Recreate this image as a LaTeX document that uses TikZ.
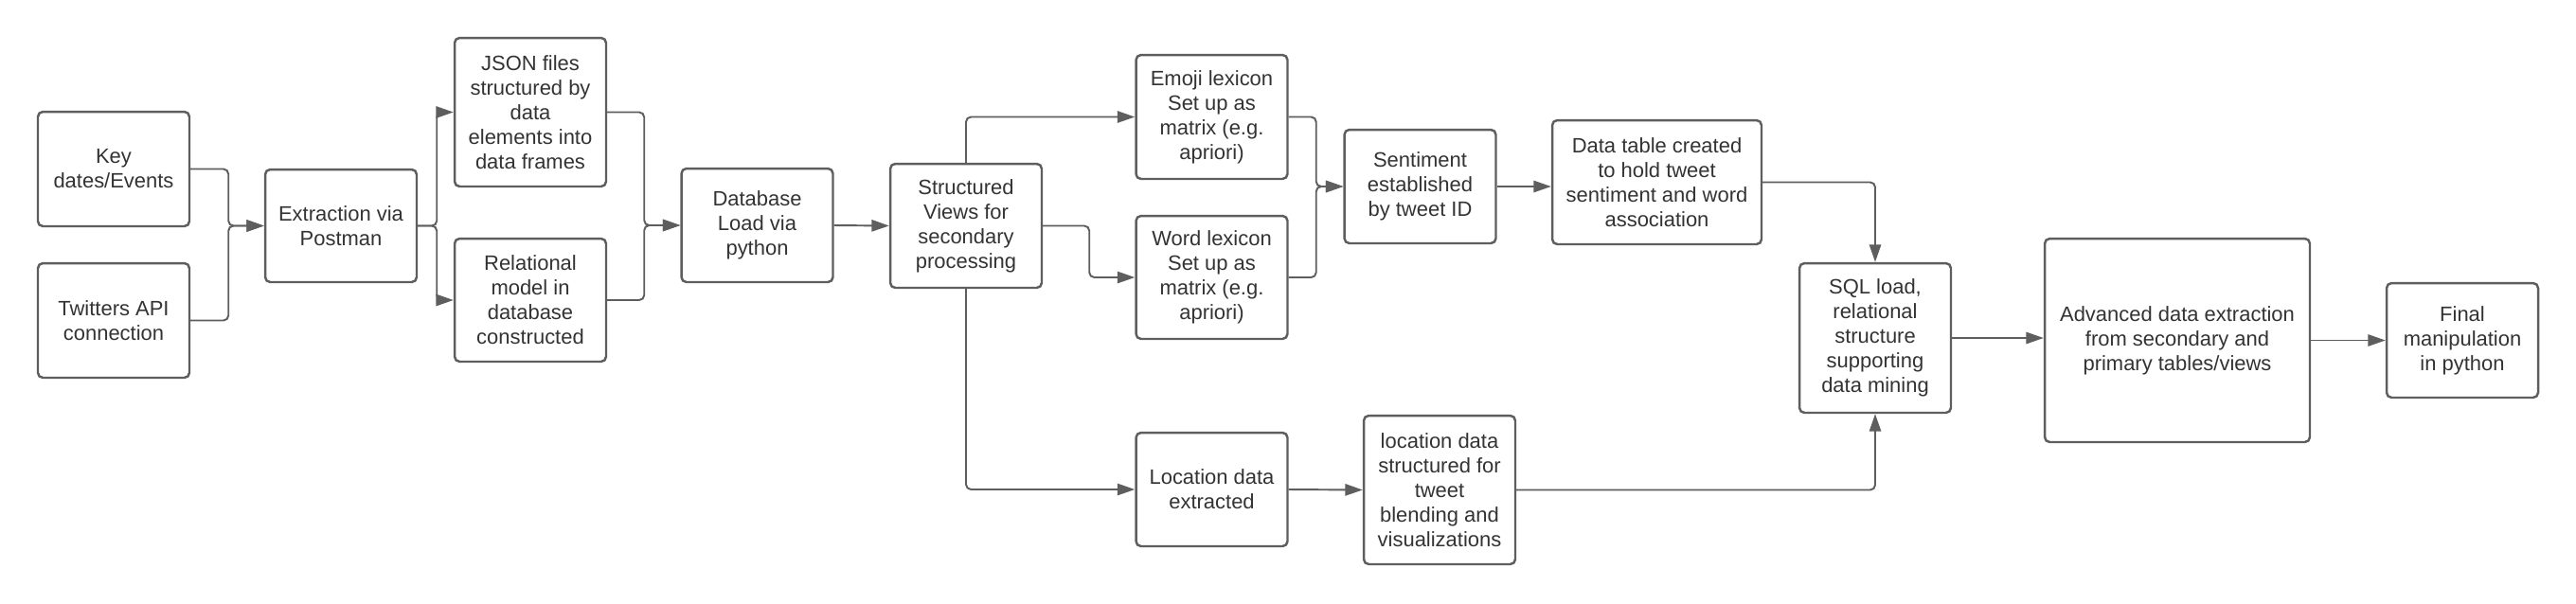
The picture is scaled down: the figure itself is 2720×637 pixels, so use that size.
\documentclass[tikz,border=0pt]{standalone}
\usepackage{fontspec}
\setmainfont{Liberation Sans}
\usetikzlibrary{arrows.meta}
\definecolor{edgegray}{HTML}{5E5E5E}
\definecolor{textgray}{HTML}{333333}
\tikzset{
  stage/.style={draw=edgegray, line width=1.4pt, rounded corners=3pt, align=center,
    text=textgray, inner sep=0pt, minimum width=3.2cm,
    font=\fontsize{12.5}{14.8}\selectfont},
  flow/.style={draw=edgegray, line width=1.1pt, rounded corners=3pt,
    -{Triangle[length=10.5pt,width=7pt]}}
}

\begin{document}
\begin{tikzpicture}[x=0.02cm, y=-0.02cm]
	\useasboundingbox (0,0) rectangle (2720,637);
	% sources and extraction
	\node[stage, minimum height=2.42cm] (key) at (120,178.5) {Key\\dates/Events};
	\node[stage, minimum height=2.42cm] (twit) at (120,338.5) {Twitters API\\connection};
	\node[stage, minimum height=2.38cm] (extr) at (360,238.5) {Extraction via\\Postman};
	\node[stage, minimum height=3.14cm] (json) at (560,118.5) {JSON files\\structured by\\data\\elements into\\data frames};
	\node[stage, minimum height=2.6cm] (rel) at (560,317) {Relational\\model in\\database\\constructed};
	\node[stage, minimum height=2.4cm] (dbl) at (799.5,238) {Database\\Load via\\python};
	\node[stage, minimum height=2.62cm] (sv) at (1020,238.5) {Structured\\Views for\\secondary\\processing};
	% lexicons and sentiment
	\node[stage, minimum height=2.62cm] (emoji) at (1279.5,123.5) {Emoji lexicon\\Set up as\\matrix (e.g.\\apriori)};
	\node[stage, minimum height=2.6cm] (word) at (1279.5,293) {Word lexicon\\Set up as\\matrix (e.g.\\apriori)};
	\node[stage, minimum height=2.4cm] (sent) at (1499.5,197) {Sentiment\\established\\by tweet ID};
	\node[stage, minimum height=2.62cm, minimum width=4.42cm] (dtab) at (1749.5,192.5) {Data table created\\to hold tweet\\sentiment and word\\association};
	% location branch
	\node[stage, minimum height=2.4cm] (locx) at (1279.5,517) {Location data\\extracted};
	\node[stage, minimum height=3.14cm] (locs) at (1520,517.5) {location data\\structured for\\tweet\\blending and\\visualizations};
	% loading and output
	\node[stage, minimum height=3.16cm] (sql) at (1980,357) {SQL load,\\relational\\structure\\supporting\\data mining};
	\node[stage, minimum height=4.3cm, minimum width=5.6cm] (adv) at (2299,359.5) {Advanced data extraction\\from secondary and\\primary tables/views};
	\node[stage, minimum height=2.42cm] (final) at (2600,359.5) {Final\\manipulation\\in python};

	\draw[flow] (key.east) -- ++(40,0) |- (extr.west);
	\draw[flow] (twit.east) -- ++(40,0) |- (extr.west);
	\draw[flow] (extr.east) -- ++(20,0) |- (json.west);
	\draw[flow] (extr.east) -- ++(20,0) |- (rel.west);
	\draw[flow] (json.east) -- ++(39,0) |- (dbl.west);
	\draw[flow] (rel.east) -- ++(39,0) |- (dbl.west);
	\draw[flow] (dbl.east) -- (sv.west);
	\draw[flow] (sv.north) |- (emoji.west);
	\draw[flow] (sv.east) -- ++(49,0) |- (word.west);
	\draw[flow] (sv.south) |- (locx.west);
	\draw[flow] (emoji.east) -- ++(29,0) |- (sent.west);
	\draw[flow] (word.east) -- ++(29,0) |- (sent.west);
	\draw[flow] (sent.east) -- (sent.east -| dtab.west);
	\draw[flow] (dtab.east) -| (sql.north);
	\draw[flow] (locx.east) -- (locs.west);
	\draw[flow] (locs.east) -| (sql.south);
	\draw[flow] (sql.east) -- (sql.east -| adv.west);
	\draw[flow] (adv.east) -- (final.west);
\end{tikzpicture}
\end{document}
